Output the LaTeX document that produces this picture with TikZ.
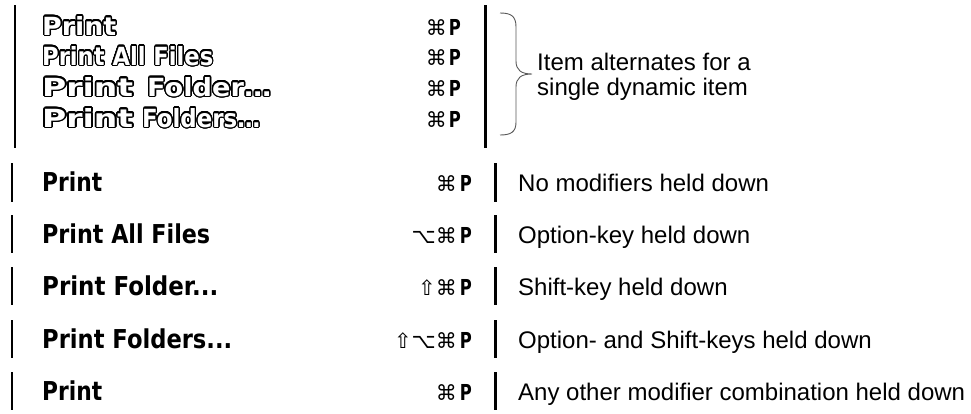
\documentclass[tikz,border=0pt]{standalone}
\usepackage{fontspec}
\setmainfont{Liberation Sans}
\newfontfamily\menufont{DejaVu Sans}
\newfontfamily\symfont{DejaVu Sans}
\usepackage{graphicx}
\usepackage[copies]{contour}
\contourlength{1.3pt}
\contournumber{24}
\newcommand\fitw[2]{\resizebox{#1}{\height}{#2}}
\newcommand\outl[1]{{\color{white}\contour{black}{#1}}}
\newcommand\kP{\fitw{12pt}{\menufont\bfseries P}}
\newcommand\kCmd{{\symfont\fontsize{21}{21}\selectfont ⌘}}
\newcommand\kOpt{{\symfont\fontsize{21}{21}\selectfont ⌥}}
\newcommand\kShift{{\symfont\fontsize{21}{21}\selectfont ⇧}}
\tikzset{
  menu/.style={anchor=base west, inner sep=0pt, font=\menufont\bfseries\fontsize{26}{26}\selectfont},
  omenu/.style={anchor=base west, inner sep=0pt, font=\menufont\bfseries\fontsize{25}{25}\selectfont},
  keys/.style={anchor=base east, inner sep=0pt, font=\fontsize{22}{22}\selectfont},
  lbl/.style={anchor=base west, inner sep=0pt, font=\fontsize{24}{25}\selectfont},
  thinbar/.style={line width=1.5pt, black},
  thickbar/.style={line width=3pt, black},
  bracestyle/.style={line width=0.9pt, black!65}
}
\begin{document}
\begin{tikzpicture}[x=1pt,y=-1pt]
\path[use as bounding box] (0,0) rectangle (971,413);

% ---- top block: item alternates ----
\draw[thinbar] (15,5) -- (15,148);
\draw[thickbar] (485,5) -- (485,148);

\node[omenu] (t1) at (42,35) {\fitw{74pt}{\outl{Print}}};
\node[omenu] (t2) at (42,65) {\fitw{171pt}{\outl{Print All Files}}};
\node[omenu] (t3) at (42,96) {\fitw{91pt}{\outl{Print}}\hspace{14pt}\fitw{124pt}{\outl{Folder…}}};
\node[omenu] (t4) at (42,127) {\fitw{91pt}{\outl{Print}}\hspace{9pt}\fitw{118pt}{\outl{Folders…}}};

\node[keys] (tk1) at (461,35) {\kCmd\kern2pt\kP};
\node[keys] (tk2) at (461,65) {\kCmd\kern2pt\kP};
\node[keys] (tk3) at (461,96) {\kCmd\kern2pt\kP};
\node[keys] (tk4) at (461,127) {\kCmd\kern2pt\kP};

% brace
\draw[bracestyle] (500,13) .. controls (511,13) and (516,16) .. (516,27)
  -- (516,61) .. controls (516,70) and (521,74) .. (532,74)
  .. controls (521,74) and (516,78) .. (516,87)
  -- (516,122) .. controls (516,132) and (511,135) .. (500,135);
\node[lbl] (bt1) at (537,70) {Item alternates for a};
\node[lbl] (bt2) at (537,95) {single dynamic item};

% ---- lower block ----
\foreach \ya/\yb in {163/202,215/253,267/305,320/358,372/410}{
  \draw[thinbar] (12,\ya) -- (12,\yb);
  \draw[thickbar] (495,\ya) -- (495,\yb);
}

\node[menu] (m1) at (42,191) {\fitw{60pt}{Print}};
\node[menu] (m2) at (42,243) {\fitw{168pt}{Print All Files}};
\node[menu] (m3) at (42,295) {\fitw{176pt}{Print Folder...}};
\node[menu] (m4) at (42,348) {\fitw{190pt}{Print Folders...}};
\node[menu] (m5) at (42,400) {\fitw{60pt}{Print}};

\node[keys] (k1) at (472,191) {\kCmd\kern3pt\kP};
\node[keys] (k2) at (472,243) {\kOpt\kCmd\kern3pt\kP};
\node[keys] (k3) at (472,295) {\kShift\kCmd\kern3pt\kP};
\node[keys] (k4) at (472,348) {\kShift\kOpt\kCmd\kern3pt\kP};
\node[keys] (k5) at (472,400) {\kCmd\kern3pt\kP};

\node[lbl] (l1) at (518,191) {No modifiers held down};
\node[lbl] (l2) at (518,243) {Option-key held down};
\node[lbl] (l3) at (518,295) {Shift-key held down};
\node[lbl] (l4) at (518,348) {Option- and Shift-keys held down};
\node[lbl] (l5) at (518,400) {Any other modifier combination held down};
\end{tikzpicture}
\end{document}
